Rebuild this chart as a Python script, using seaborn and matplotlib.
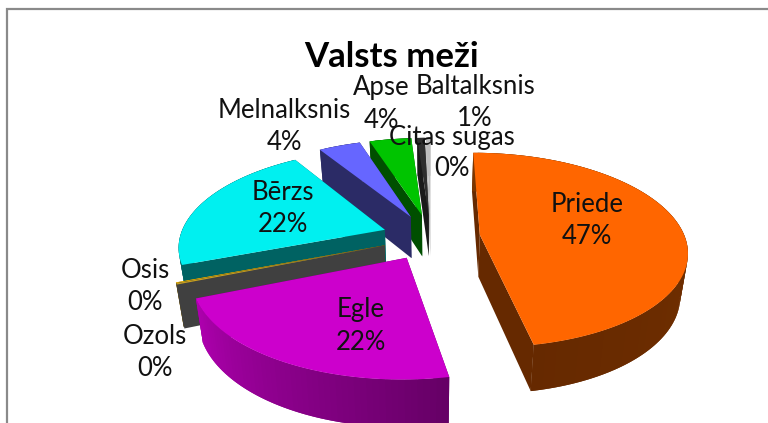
import numpy as np
import matplotlib
matplotlib.use("Agg")
import matplotlib.pyplot as plt
import seaborn as sns

# --- data (percent shares)
species = ["Priede", "Egle", "Ozols", "Osis", "Bērzs", "Melnalksnis", "Apse", "Baltalksnis", "Citas sugas"]
shares = [47.0, 21.9, 0.2, 0.1, 21.9, 3.9, 3.9, 0.7, 0.4]
title = "Valsts meži"

# --- styles
top_colors = ["#FF6600", "#CC00CC", "#C8A020", "#FFC000", "#00F0F0", "#6666FF", "#00C400", "#2E2E2E", "#BDBDBD"]
wall_colors = ["#662900", "#660066", "#404040", "#806000", "#006262", "#2B2B66", "#004F00", "#1A1A1A", "#BDBDBD"]
rim_start_colors = ["#7C3600", "#660066", "#404040", "#806000", "#006262", "#2B2B66", "#004F00", "#1A1A1A", "#BDBDBD"]
rim_end_colors = ["#662900", "#B000B0", "#404040", "#806000", "#006262", "#2B2B66", "#004F00", "#1A1A1A", "#BDBDBD"]
label_centres = [(587, 221), (361, 326), (155, 353), (145, 287), (283, 209), (284, 126), (381, 104), (475, 102), (452, 153)]

# --- projection of the tilted pie into pixels
CX, CY, A, B, P, EXPLODE = 431.0, 237.0, 205.0, 95.5, 0.156, 0.24
DEPTH, SHRINK, STRETCH = 42.0, 0.97, 0.04


def project(X, Y):
    s = 1.0 / (1.0 + P * Y)
    return CX + A * X * s, CY - B * Y * s


def lower(x, y):
    return CX + (x - CX) * SHRINK, y + DEPTH + STRETCH * (y - CY)


sns.set_theme(style="white")
plt.rcParams["font.family"] = ["Lato", "DejaVu Sans"]

fig = plt.figure(figsize=(7.68, 4.23), dpi=100)
ax = fig.add_axes([0, 0, 1, 1])
ax.set_xlim(0, 768)
ax.set_ylim(423, 0)
ax.axis("off")

# chart frame: only the top and left edges are in the crop
ax.plot([6.5, 6.5, 768], [423, 9, 9], color="#8A8A8A", lw=1.6, solid_joinstyle="miter", zorder=1)

total = sum(shares)
edges = np.cumsum([0.0] + list(shares)) / total * 2 * np.pi
mids = (edges[:-1] + edges[1:]) / 2
order = np.argsort(-np.cos(mids))

z = 2
for i in order:
    th = np.linspace(edges[i], edges[i + 1], max(2, int((edges[i + 1] - edges[i]) * 40)))
    ex, ey = EXPLODE * np.sin(mids[i]), EXPLODE * np.cos(mids[i])
    rx, ry = project(ex + np.sin(th), ey + np.cos(th))
    ax_, ay_ = project(ex, ey)
    bx, by = lower(rx, ry)
    cbx, cby = lower(ax_, ay_)

    # radial walls
    for k in (0, -1):
        ax.fill([ax_, rx[k], bx[k], cbx], [ay_, ry[k], by[k], cby],
                facecolor=wall_colors[i], edgecolor="none", zorder=z)
    z += 1
    # outer rim, shaded along the arc; each band overlaps the next to hide seams
    n = len(th)
    shades = sns.blend_palette([rim_start_colors[i], rim_end_colors[i]], n)
    for j in range(n - 1):
        e = min(j + 3, n)
        ax.fill(np.r_[rx[j:e], bx[j:e][::-1]], np.r_[ry[j:e], by[j:e][::-1]],
                facecolor=shades[j], edgecolor="none", zorder=z)
    z += 1
    # top face
    ax.fill(np.r_[ax_, rx], np.r_[ay_, ry], facecolor=top_colors[i], edgecolor="none", zorder=z)
    z += 1

ax.text(392, 57, title, ha="center", va="center", fontsize=25, fontweight="bold", color="black", zorder=z)
for name, share, (lx, ly) in zip(species, shares, label_centres):
    pct = f"{round(share / total * 100):d}%"
    ax.text(lx, ly - 16, name, ha="center", va="center", fontsize=18.5, color="#111111", zorder=z)
    ax.text(lx, ly + 16, pct, ha="center", va="center", fontsize=18.5, color="#111111", zorder=z)

fig.savefig("out.png", dpi=100)
